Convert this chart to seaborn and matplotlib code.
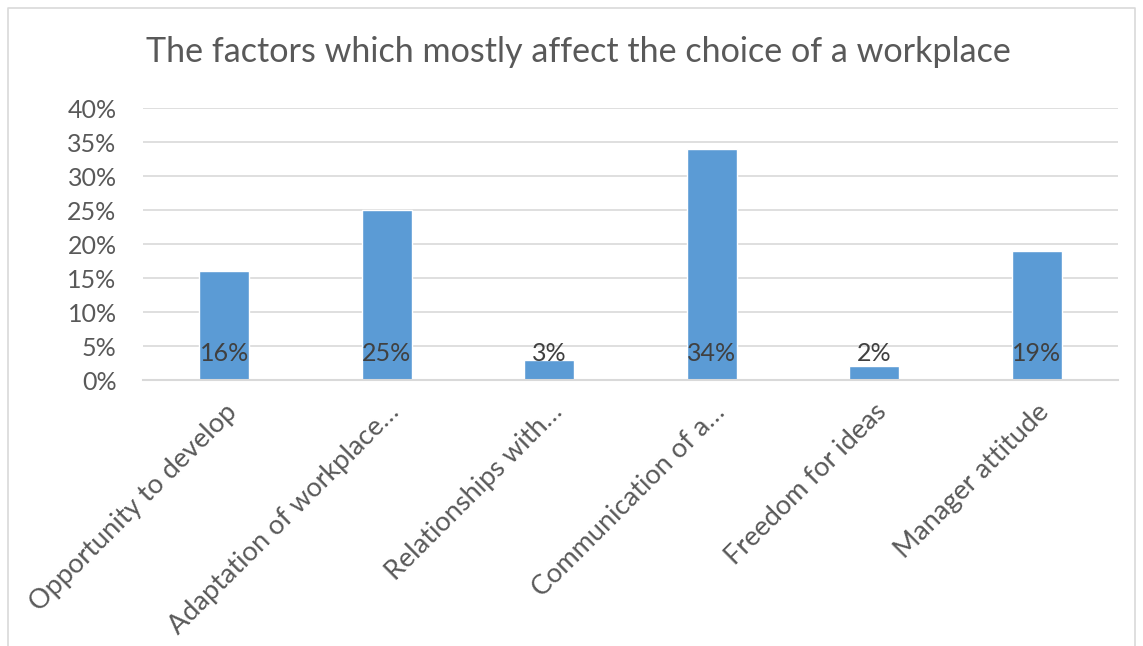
import pandas as pd
import matplotlib.pyplot as plt
import seaborn as sns
from matplotlib.lines import Line2D
from matplotlib.ticker import PercentFormatter

categories = ['Opportunity to develop', 'Adaptation of workplace…', 'Relationships with…',
              'Communication of a…', 'Freedom for ideas', 'Manager attitude']
shares = [0.16, 0.25, 0.03, 0.34, 0.02, 0.19]
label_texts = ['16%', '25%', '3%', '34%', '2%', '19%']

df = pd.DataFrame({'factor': categories, 'share': shares})

sns.set_style('white')
plt.rcParams['font.family'] = ['Lato', 'DejaVu Sans']

bar_color = '#5B9BD5'
text_color = '#595959'
grid_color = '#D9D9D9'

fig = plt.figure(figsize=(11.43, 6.46), dpi=100)
ax = fig.add_axes([143 / 1143, 1 - 380 / 646, 975 / 1143, 272 / 646])

sns.barplot(data=df, x='factor', y='share', color=bar_color, width=0.31,
            saturation=1, ax=ax)

ax.set_ylim(0, 0.40)
ax.set_yticks([i * 0.05 for i in range(9)])
ax.yaxis.set_major_formatter(PercentFormatter(1.0, decimals=0))
ax.grid(axis='y', color=grid_color, linewidth=1.2)
ax.set_axisbelow(True)
for side in ['left', 'right', 'top']:
    ax.spines[side].set_visible(False)
ax.spines['bottom'].set_color(grid_color)
ax.spines['bottom'].set_linewidth(1.5)
ax.tick_params(axis='y', length=0, labelsize=18, labelcolor=text_color, pad=19)
ax.tick_params(axis='x', length=0, labelsize=19.5, labelcolor=text_color, pad=14)
ax.set_xlabel('')
ax.set_ylabel('')

for lbl in ax.get_xticklabels():
    lbl.set_rotation(45)
    lbl.set_ha('right')
    lbl.set_va('top')
    lbl.set_rotation_mode('anchor')

# data labels at the inside base of each bar
for i, txt in enumerate(label_texts):
    ax.annotate(txt, (i, 0), xytext=(0, 11), textcoords='offset points',
                ha='center', va='bottom', fontsize=18, color='#404040')

fig.text(578 / 1143, 1 - 52 / 646, 'The factors which mostly affect the choice of a workplace',
         ha='center', va='center', fontsize=24.6, color=text_color)

# chart border
bx0, bx1, by1 = 8 / 1143, 1135 / 1143, 1 - 8 / 646
fig.add_artist(Line2D([bx0, bx0, bx1, bx1], [0, by1, by1, 0], transform=fig.transFigure,
                      color=grid_color, linewidth=1.2))

fig.savefig('out.png', dpi=100)
